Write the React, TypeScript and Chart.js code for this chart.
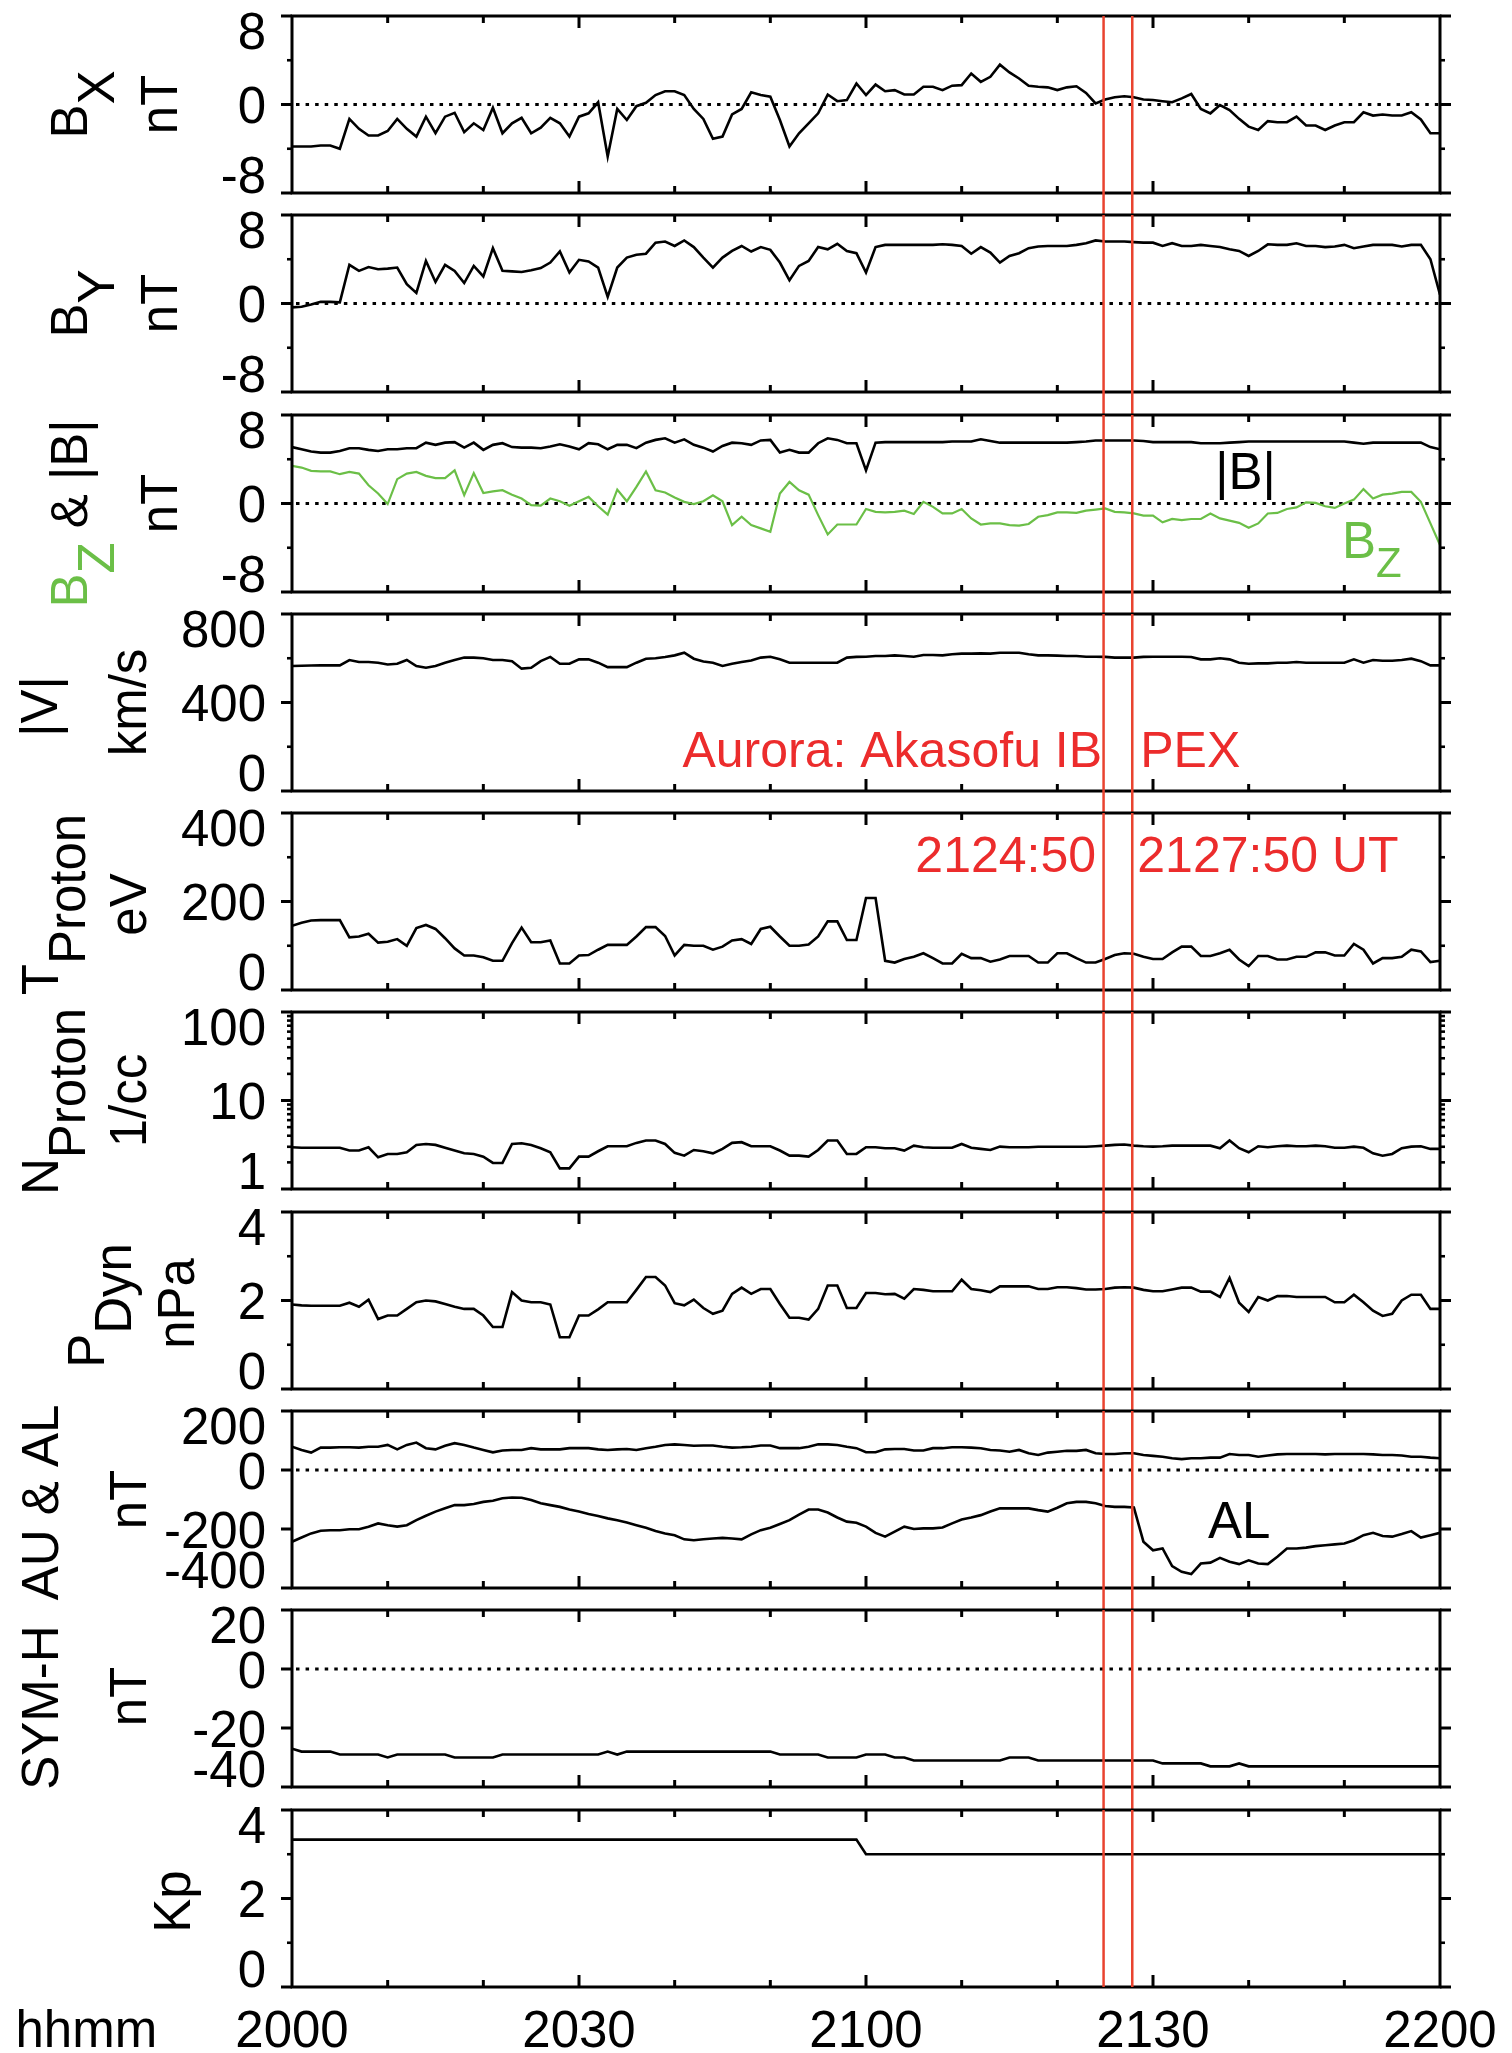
import React, { useEffect, useRef } from 'react';
import { Chart, registerables } from 'chart.js';

Chart.register(...registerables);

const FAMILY = '"Liberation Sans", Arial, Helvetica, sans-serif';
const BLACK = '#000000';
const GREEN = '#6bbf47';
const RED_LINE = '#e9432f';
const RED_TEXT = '#ec2c2c';

// ---------------- data ----------------
// time axis: minutes after 2000 UT (1-min resolution)
const minutes: number[] = Array.from({ length: 121 }, (_, i) => i);
const timeTickValues = [0, 30, 60, 90, 120];
const timeTickLabels = ['2000', '2030', '2100', '2130', '2200'];
const eventTimes = [84 + 50 / 60, 87 + 50 / 60]; // 2124:50 and 2127:50 UT

const bx = [
  -3.8, -3.8, -3.8, -3.7, -3.7, -4.0, -1.3, -2.2, -2.8, -2.8,
  -2.4, -1.3, -2.2, -2.9, -1.1, -2.6, -1.1, -0.75, -2.5, -1.7,
  -2.3, -0.3, -2.6, -1.7, -1.2, -2.6, -2.1, -1.2, -1.7, -2.9,
  -1.1, -0.8, 0.2, -4.7, -0.4, -1.4, -0.15, 0.15, 0.85, 1.2,
  1.2, 0.85, -0.4, -1.3, -3.1, -2.9, -0.9, -0.4, 1.1, 0.85,
  0.7, -1.4, -3.8, -2.6, -1.7, -0.8, 0.9, 0.3, 0.4, 1.9,
  0.85, 1.8, 1.2, 1.3, 0.9, 0.9, 1.6, 1.6, 1.3, 1.7,
  1.75, 2.8, 2.05, 2.5, 3.6, 2.9, 2.35, 1.7, 1.6, 1.55,
  1.3, 1.55, 1.65, 1.05, 0.1, 0.45, 0.65, 0.75, 0.65, 0.45,
  0.4, 0.3, 0.2, 0.55, 0.95, -0.4, -0.8, -0.05, -0.5, -1.3,
  -2.0, -2.3, -1.5, -1.6, -1.6, -1.1, -1.9, -1.9, -2.3, -1.9,
  -1.6, -1.6, -0.7, -1.0, -0.9, -1.0, -1.0, -0.7, -1.35, -2.6, -2.6,
];

const by = [
  -0.35, -0.3, -0.1, 0.15, 0.15, 0.1, 3.5, 2.95, 3.3, 3.1,
  3.15, 3.25, 1.75, 0.95, 3.85, 1.95, 3.5, 2.95, 1.85, 3.4,
  2.45, 5.0, 2.95, 2.9, 2.85, 3.0, 3.2, 3.7, 4.7, 2.8,
  3.95, 3.8, 3.25, 0.6, 3.25, 4.15, 4.4, 4.5, 5.5, 5.6,
  5.2, 5.7, 5.1, 4.15, 3.25, 4.15, 4.75, 5.2, 4.7, 5.1,
  4.85, 3.7, 2.1, 3.4, 3.85, 5.1, 4.9, 5.4, 4.75, 4.55,
  2.8, 5.1, 5.3, 5.3, 5.3, 5.3, 5.3, 5.3, 5.35, 5.3,
  5.2, 4.5, 5.1, 4.6, 3.7, 4.3, 4.55, 5.0, 5.15, 5.2,
  5.2, 5.2, 5.3, 5.45, 5.7, 5.6, 5.6, 5.6, 5.55, 5.5,
  5.5, 5.2, 5.45, 5.2, 5.2, 5.3, 5.2, 5.1, 4.9, 4.75,
  4.3, 4.75, 5.35, 5.3, 5.3, 5.45, 5.2, 5.2, 5.1, 5.15,
  5.3, 5.0, 5.15, 5.3, 5.3, 5.3, 5.15, 5.3, 5.3, 4.0, 0.8,
];

const bmag = [
  5.1, 4.9, 4.7, 4.6, 4.6, 4.75, 5.0, 5.0, 4.85, 4.75,
  4.9, 4.9, 5.0, 5.0, 5.5, 5.3, 5.5, 5.55, 5.05, 5.5,
  4.85, 5.3, 5.45, 5.1, 5.05, 5.05, 5.0, 5.15, 5.35, 5.15,
  4.9, 5.45, 5.35, 4.9, 5.3, 5.3, 5.0, 5.5, 5.75, 5.9,
  5.5, 5.8, 5.3, 5.05, 4.7, 5.2, 5.5, 5.45, 5.3, 5.7,
  5.75, 4.6, 4.85, 4.6, 4.6, 5.45, 5.9, 5.75, 5.45, 5.45,
  3.0, 5.5, 5.55, 5.55, 5.55, 5.55, 5.55, 5.55, 5.55, 5.6,
  5.6, 5.6, 5.8, 5.65, 5.5, 5.5, 5.5, 5.5, 5.5, 5.5,
  5.5, 5.5, 5.55, 5.6, 5.7, 5.7, 5.7, 5.7, 5.7, 5.65,
  5.55, 5.55, 5.55, 5.55, 5.55, 5.45, 5.45, 5.45, 5.5, 5.55,
  5.6, 5.6, 5.6, 5.6, 5.6, 5.6, 5.6, 5.6, 5.6, 5.6,
  5.6, 5.5, 5.4, 5.5, 5.5, 5.5, 5.5, 5.5, 5.5, 5.1, 4.9,
];

const bz = [
  3.4, 3.25, 2.95, 2.9, 2.9, 2.65, 2.85, 2.7, 1.65, 0.9,
  -0.05, 2.2, 2.7, 2.85, 2.5, 2.3, 2.3, 3.0, 0.75, 2.75,
  0.95, 1.1, 1.2, 0.8, 0.45, -0.15, -0.2, 0.45, 0.2, -0.2,
  0.2, 0.6, -0.25, -1.0, 1.25, 0.2, 1.5, 2.9, 1.2, 1.0,
  0.55, 0.15, -0.05, 0.2, 0.75, 0.2, -1.95, -1.2, -1.95, -2.25,
  -2.55, 0.9, 1.95, 1.2, 0.8, -1.05, -2.8, -1.9, -1.9, -1.9,
  -0.5, -0.75, -0.8, -0.75, -0.65, -0.95, 0.15, -0.3, -0.9, -0.9,
  -0.5, -1.35, -1.9, -1.8, -1.8, -1.95, -2.0, -1.85, -1.2, -1.05,
  -0.8, -0.8, -0.85, -0.65, -0.55, -0.45, -0.75, -0.8, -0.9, -1.1,
  -1.1, -1.7, -1.4, -1.5, -1.4, -1.4, -0.9, -1.35, -1.55, -1.75,
  -2.2, -1.8, -0.9, -0.85, -0.5, -0.35, 0.1, 0.05, -0.25, -0.4,
  0.0, 0.35, 1.3, 0.45, 0.8, 0.9, 1.05, 1.05, 0.15, -1.8, -3.75,
];

const speed = [
  565, 566, 567, 568, 568, 568, 592, 583, 583, 580,
  572, 575, 592, 565, 557, 565, 580, 592, 603, 603,
  600, 592, 592, 587, 553, 557, 587, 606, 575, 575,
  595, 595, 580, 560, 560, 560, 580, 598, 600, 606,
  613, 625, 598, 585, 580, 565, 575, 583, 590, 603,
  607, 595, 580, 580, 580, 580, 580, 580, 603, 606,
  607, 610, 610, 613, 610, 607, 615, 615, 613, 618,
  621, 621, 622, 621, 625, 625, 625, 618, 613, 613,
  612, 610, 610, 607, 607, 606, 603, 603, 603, 606,
  607, 607, 607, 607, 606, 595, 595, 600, 595, 580,
  575, 577, 577, 580, 580, 583, 580, 580, 580, 580,
  580, 595, 580, 592, 589, 589, 592, 598, 587, 568, 568,
];

const tProton = [
  145, 152, 157, 158, 158, 158, 119, 121, 127, 107,
  109, 115, 100, 140, 147, 138, 117, 94, 78, 78,
  74, 66, 66, 106, 141, 108, 108, 112, 60, 60,
  78, 79, 91, 102, 102, 102, 121, 142, 142, 122,
  78, 102, 100, 100, 91, 98, 112, 115, 104, 138,
  143, 121, 100, 100, 103, 121, 155, 155, 113, 113,
  208, 208, 66, 62, 70, 75, 83, 72, 60, 60,
  82, 72, 72, 64, 69, 77, 77, 77, 62, 62,
  83, 83, 72, 62, 62, 70, 79, 83, 82, 75,
  70, 70, 85, 98, 98, 77, 77, 83, 91, 69,
  54, 77, 77, 69, 69, 75, 75, 85, 85, 78,
  78, 104, 91, 60, 72, 72, 75, 91, 87, 63, 66,
];

const nProton = [
  2.96, 2.92, 2.92, 2.92, 2.92, 2.92, 2.72, 2.72, 2.96, 2.28,
  2.49, 2.49, 2.6, 3.15, 3.23, 3.15, 2.92, 2.72, 2.53, 2.49,
  2.32, 1.97, 1.97, 3.23, 3.29, 3.15, 2.89, 2.6, 1.71, 1.71,
  2.32, 2.32, 2.67, 3.04, 3.04, 3.04, 3.32, 3.53, 3.53, 3.23,
  2.56, 2.38, 2.76, 2.67, 2.53, 2.84, 3.32, 3.38, 3.04, 3.04,
  3.04, 2.72, 2.38, 2.38, 2.32, 2.76, 3.53, 3.53, 2.49, 2.49,
  2.96, 2.96, 2.89, 2.89, 2.72, 3.09, 2.96, 2.92, 2.92, 2.92,
  3.23, 2.92, 2.84, 2.76, 3.01, 2.96, 2.96, 2.96, 3.0, 3.0,
  3.0, 3.0, 3.0, 3.0, 3.04, 3.09, 3.15, 3.18, 3.09, 3.04,
  3.01, 3.04, 3.09, 3.09, 3.09, 3.09, 3.09, 2.89, 3.53, 2.89,
  2.6, 3.04, 2.96, 3.04, 3.09, 3.04, 3.04, 3.09, 3.04, 2.92,
  2.92, 3.01, 2.92, 2.53, 2.38, 2.49, 2.89, 3.01, 3.04, 2.84, 2.84,
];

const pDyn = [
  1.91, 1.89, 1.88, 1.88, 1.88, 1.88, 1.95, 1.86, 2.02, 1.58,
  1.66, 1.66, 1.81, 1.96, 2.0, 1.98, 1.92, 1.86, 1.81, 1.81,
  1.66, 1.4, 1.4, 2.19, 2.0, 1.96, 1.96, 1.91, 1.17, 1.17,
  1.66, 1.66, 1.8, 1.96, 1.96, 1.96, 2.24, 2.53, 2.53, 2.34,
  1.94, 1.89, 2.02, 1.83, 1.7, 1.77, 2.15, 2.29, 2.15, 2.26,
  2.26, 1.92, 1.61, 1.61, 1.57, 1.81, 2.34, 2.34, 1.83, 1.83,
  2.17, 2.17, 2.14, 2.15, 2.04, 2.26, 2.24, 2.21, 2.21, 2.21,
  2.47, 2.26, 2.23, 2.19, 2.32, 2.32, 2.32, 2.32, 2.26, 2.26,
  2.3, 2.3, 2.28, 2.25, 2.25, 2.26, 2.29, 2.3, 2.29, 2.24,
  2.21, 2.21, 2.25, 2.29, 2.29, 2.2, 2.2, 2.08, 2.51, 1.95,
  1.74, 2.08, 2.0, 2.1, 2.1, 2.08, 2.08, 2.08, 2.08, 1.96,
  1.96, 2.13, 1.96, 1.77, 1.65, 1.7, 2.0, 2.13, 2.13, 1.81, 1.81,
];

const au = [
  79, 68, 59, 76, 76, 77, 77, 76, 79, 79,
  85, 70, 85, 93, 74, 70, 82, 91, 85, 76,
  68, 60, 66, 68, 68, 74, 70, 70, 70, 74,
  74, 74, 70, 68, 70, 71, 68, 74, 79, 85,
  87, 85, 82, 83, 83, 79, 76, 77, 79, 83,
  83, 74, 74, 74, 79, 87, 87, 85, 79, 74,
  60, 60, 70, 71, 71, 66, 66, 74, 74, 77,
  77, 76, 74, 68, 66, 62, 68, 57, 51, 59,
  62, 65, 65, 68, 57, 54, 54, 57, 57, 51,
  48, 45, 40, 37, 40, 40, 42, 42, 54, 51,
  51, 45, 49, 53, 54, 54, 54, 54, 53, 54,
  54, 54, 54, 53, 51, 51, 49, 45, 45, 42, 40,
];

const al = [
  -243, -229, -215, -206, -204, -204, -201, -201, -192, -181,
  -187, -192, -187, -170, -155, -141, -130, -119, -119, -115,
  -108, -104, -96, -93, -94, -102, -113, -119, -125, -134,
  -141, -149, -156, -164, -170, -178, -187, -196, -207, -215,
  -221, -235, -238, -235, -232, -230, -232, -235, -218, -204,
  -196, -183, -170, -151, -134, -134, -144, -161, -175, -179,
  -192, -213, -226, -209, -192, -200, -198, -198, -195, -181,
  -168, -161, -153, -141, -130, -130, -130, -130, -136, -141,
  -128, -113, -108, -108, -113, -122, -125, -125, -127, -243,
  -272, -266, -326, -345, -353, -317, -314, -298, -311, -319,
  -306, -317, -319, -294, -266, -266, -263, -258, -255, -252,
  -249, -238, -221, -213, -224, -226, -217, -207, -229, -221, -213,
];

const symH = [
  -27, -28, -28, -28, -28, -29, -29, -29, -29, -29,
  -30, -29, -29, -29, -29, -29, -29, -30, -30, -30,
  -30, -30, -29, -29, -29, -29, -29, -29, -29, -29,
  -29, -29, -29, -28, -29, -28, -28, -28, -28, -28,
  -28, -28, -28, -28, -28, -28, -28, -28, -28, -28,
  -28, -29, -29, -29, -29, -29, -30, -30, -30, -30,
  -29, -29, -29, -30, -30, -31, -31, -31, -31, -31,
  -31, -31, -31, -31, -31, -30, -30, -30, -31, -31,
  -31, -31, -31, -31, -31, -31, -31, -31, -31, -31,
  -31, -32, -32, -32, -32, -32, -33, -33, -33, -32,
  -33, -33, -33, -33, -33, -33, -33, -33, -33, -33,
  -33, -33, -33, -33, -33, -33, -33, -33, -33, -33, -33,
];

// Kp (3-hour index): step values at the given minutes
const kpTimes = [0, 59, 60, 120];
const kpValues = [3.33, 3.33, 3.0, 3.0];

// y-axis tick values / labels per panel
const bTickValues = [8, 0, -8];
const bTickLabels = ['8', '0', '-8'];
const vTickValues = [800, 400, 0];
const vTickLabels = ['800', '400', '0'];
const tTickValues = [400, 200, 0];
const tTickLabels = ['400', '200', '0'];
const nTickValues = [100, 10, 1];
const nTickLabels = ['100', '10', '1'];
const pTickValues = [4, 2, 0];
const pTickLabels = ['4', '2', '0'];
const aeTickValues = [200, 0, -200, -400];
const aeTickLabels = ['200', '0', '-200', '-400'];
const symTickValues = [20, 0, -20, -40];
const symTickLabels = ['20', '0', '-20', '-40'];
const kpTickValues = [4, 2, 0];
const kpTickLabels = ['4', '2', '0'];

// ---------------- layout ----------------
const PAGE_W = 1512;
const PAGE_H = 2053;
const PLOT_LEFT = 292;
const PLOT_RIGHT = 1440;
const PANEL_TOPS = [16, 215, 415, 614, 813, 1012, 1212, 1411, 1610, 1810];
const PANEL_H = 177;
const PAD_TOP = 60;
const SUB = 27;
const LABEL_FONT = `51px ${FAMILY}`;
const RED_FONT = `50px ${FAMILY}`;

type Seg = { t: string; sub?: boolean; c?: string; size?: number; dy?: number };
type Series = { data: number[]; xs?: number[]; color: string; width: number };
type TitleLine = { segs: Seg[]; bx: number; dy: number };
type Annot = { segs: Seg[]; x: number; dx?: number; y: number; align: 'left' | 'right'; font?: string; color?: string };
type PanelCfg = {
  min: number; max: number; log?: boolean;
  ticks: number[]; labels: string[]; minors: number[];
  zero?: boolean; series: Series[]; titles: TitleLine[]; annots?: Annot[];
};

const logMinors = [2, 3, 4, 5, 6, 7, 8, 9, 20, 30, 40, 50, 60, 70, 80, 90];

const panels: PanelCfg[] = [
  {
    min: -8, max: 8, ticks: bTickValues, labels: bTickLabels, minors: [-4, 4], zero: true,
    series: [{ data: bx, color: BLACK, width: 2.6 }],
    titles: [
      { segs: [{ t: 'B' }, { t: 'X', sub: true }], bx: 87, dy: 0 },
      { segs: [{ t: 'nT' }], bx: 177, dy: 0 },
    ],
  },
  {
    min: -8, max: 8, ticks: bTickValues, labels: bTickLabels, minors: [-4, 4], zero: true,
    series: [{ data: by, color: BLACK, width: 2.6 }],
    titles: [
      { segs: [{ t: 'B' }, { t: 'Y', sub: true }], bx: 87, dy: 0 },
      { segs: [{ t: 'nT' }], bx: 177, dy: 0 },
    ],
  },
  {
    min: -8, max: 8, ticks: bTickValues, labels: bTickLabels, minors: [-4, 4], zero: true,
    series: [
      { data: bmag, color: BLACK, width: 2.6 },
      { data: bz, color: GREEN, width: 2.2 },
    ],
    titles: [
      { segs: [{ t: 'B', c: GREEN }, { t: 'Z', sub: true, c: GREEN }, { t: ' & |B|' }], bx: 87, dy: 10 },
      { segs: [{ t: 'nT' }], bx: 177, dy: 0 },
    ],
    annots: [
      { segs: [{ t: '|B|' }], x: 96.5, y: 1.31, align: 'left', color: BLACK },
      { segs: [{ t: 'B' }, { t: 'Z', size: 42, dy: 19 }], x: 109.75, y: -4.93, align: 'left', color: GREEN },
    ],
  },
  {
    min: 0, max: 800, ticks: vTickValues, labels: vTickLabels, minors: [200, 600],
    series: [{ data: speed, color: BLACK, width: 2.6 }],
    titles: [
      { segs: [{ t: '|V|' }], bx: 57, dy: 4 },
      { segs: [{ t: 'km/s' }], bx: 146, dy: 0 },
    ],
    annots: [
      { segs: [{ t: 'Aurora: Akasofu IB' }], x: eventTimes[0], dx: -1.5, y: 108, align: 'right', font: RED_FONT, color: RED_TEXT },
      { segs: [{ t: 'PEX' }], x: eventTimes[1], dx: 8, y: 108, align: 'left', font: RED_FONT, color: RED_TEXT },
    ],
  },
  {
    min: 0, max: 400, ticks: tTickValues, labels: tTickLabels, minors: [100, 300],
    series: [{ data: tProton, color: BLACK, width: 2.6 }],
    titles: [
      { segs: [{ t: 'T' }, { t: 'Proton', sub: true }], bx: 58, dy: 3 },
      { segs: [{ t: 'eV' }], bx: 146, dy: 3 },
    ],
    annots: [
      { segs: [{ t: '2124:50' }], x: eventTimes[0], dx: -7.5, y: 267, align: 'right', font: RED_FONT, color: RED_TEXT },
      { segs: [{ t: '2127:50 UT' }], x: eventTimes[1], dx: 5, y: 267, align: 'left', font: RED_FONT, color: RED_TEXT },
    ],
  },
  {
    min: 1, max: 100, log: true, ticks: nTickValues, labels: nTickLabels, minors: logMinors,
    series: [{ data: nProton, color: BLACK, width: 2.6 }],
    titles: [
      { segs: [{ t: 'N' }, { t: 'Proton', sub: true }], bx: 58, dy: 1 },
      { segs: [{ t: '1/cc' }], bx: 146, dy: 0 },
    ],
  },
  {
    min: 0, max: 4, ticks: pTickValues, labels: pTickLabels, minors: [1, 3],
    series: [{ data: pDyn, color: BLACK, width: 2.6 }],
    titles: [
      { segs: [{ t: 'P' }, { t: 'Dyn', sub: true }], bx: 104, dy: 5 },
      { segs: [{ t: 'nPa' }], bx: 194, dy: 3 },
    ],
  },
  {
    min: -400, max: 200, ticks: aeTickValues, labels: aeTickLabels, minors: [], zero: true,
    series: [
      { data: au, color: BLACK, width: 2.6 },
      { data: al, color: BLACK, width: 2.6 },
    ],
    titles: [
      { segs: [{ t: 'AU & AL' }], bx: 58, dy: 3 },
      { segs: [{ t: 'nT' }], bx: 146, dy: 0 },
    ],
    annots: [{ segs: [{ t: 'AL' }], x: 95.75, y: -230, align: 'left', color: BLACK }],
  },
  {
    min: -40, max: 20, ticks: symTickValues, labels: symTickLabels, minors: [], zero: true,
    series: [{ data: symH, color: BLACK, width: 2.6 }],
    titles: [
      { segs: [{ t: 'SYM-H' }], bx: 58, dy: 9 },
      { segs: [{ t: 'nT' }], bx: 146, dy: -2 },
    ],
  },
  {
    min: 0, max: 4, ticks: kpTickValues, labels: kpTickLabels, minors: [1, 3],
    series: [{ data: kpValues, xs: kpTimes, color: BLACK, width: 2.6 }],
    titles: [{ segs: [{ t: 'Kp' }], bx: 190, dy: 3 }],
  },
];

// ---------------- drawing helpers ----------------
function segWidths(ctx: CanvasRenderingContext2D, segs: Seg[], baseSize: number) {
  return segs.map((s) => {
    ctx.font = `${s.size || baseSize}px ${FAMILY}`;
    return ctx.measureText(s.t).width;
  });
}

function drawRotatedTitle(ctx: CanvasRenderingContext2D, segs: Seg[], bx: number, cy: number) {
  const size = 51;
  const widths = segWidths(ctx, segs, size);
  const total = widths.reduce((a, b) => a + b, 0);
  ctx.save();
  ctx.translate(bx, cy);
  ctx.rotate(-Math.PI / 2);
  ctx.textAlign = 'left';
  ctx.textBaseline = 'alphabetic';
  let x = -total / 2;
  segs.forEach((s, i) => {
    ctx.font = `${s.size || size}px ${FAMILY}`;
    ctx.fillStyle = s.c || BLACK;
    ctx.fillText(s.t, x, s.sub ? SUB : 0);
    x += widths[i];
  });
  ctx.restore();
}

function drawRich(ctx: CanvasRenderingContext2D, segs: Seg[], x: number, y: number, align: 'left' | 'right', baseSize: number, color: string) {
  const widths = segWidths(ctx, segs, baseSize);
  const total = widths.reduce((a, b) => a + b, 0);
  let cx = align === 'right' ? x - total : x;
  ctx.save();
  ctx.textAlign = 'left';
  ctx.textBaseline = 'alphabetic';
  segs.forEach((s, i) => {
    ctx.font = `${s.size || baseSize}px ${FAMILY}`;
    ctx.fillStyle = s.c || color;
    ctx.fillText(s.t, cx, y + (s.dy || 0));
    cx += widths[i];
  });
  ctx.restore();
}

function line(ctx: CanvasRenderingContext2D, x1: number, y1: number, x2: number, y2: number) {
  ctx.beginPath();
  ctx.moveTo(x1, y1);
  ctx.lineTo(x2, y2);
  ctx.stroke();
}

function Panel({ cfg, index }: { cfg: PanelCfg; index: number }) {
  const ref = useRef<HTMLCanvasElement | null>(null);
  const top = PANEL_TOPS[index];
  const isLast = index === PANEL_TOPS.length - 1;
  const padBottom = isLast ? 64 : 70;
  const canvasTop = top - PAD_TOP;
  const height = PAD_TOP + PANEL_H + padBottom;
  const gapBelow = isLast ? 0 : PANEL_TOPS[index + 1] - (top + PANEL_H);

  useEffect(() => {
    const canvas = ref.current;
    if (!canvas) return;
    const datasets = cfg.series.map((s) => ({
      data: s.data.map((v, i) => ({ x: (s.xs || minutes)[i], y: v })),
      borderColor: s.color,
      borderWidth: s.width,
      pointRadius: 0,
      fill: false,
      tension: 0,
      borderJoinStyle: 'miter',
      borderCapStyle: 'butt',
    }));

    const decor = {
      id: 'decor' + index,
      beforeDatasetsDraw(chart: any) {
        const { ctx, chartArea: a, scales } = chart;
        if (cfg.zero) {
          const yy = scales.y.getPixelForValue(0);
          ctx.save();
          ctx.strokeStyle = BLACK;
          ctx.lineWidth = 3;
          ctx.setLineDash([3.5, 6.07]);
          line(ctx, a.left + 4, yy, a.right, yy);
          ctx.restore();
        }
      },
      afterDatasetsDraw(chart: any) {
        const { ctx, chartArea: a, scales } = chart;
        const xs = scales.x;
        const ys = scales.y;
        ctx.save();
        ctx.strokeStyle = BLACK;
        ctx.lineWidth = 3;
        ctx.lineCap = 'square';
        ctx.setLineDash([]);
        // frame
        ctx.strokeRect(a.left, a.top, a.right - a.left, a.bottom - a.top);
        ctx.lineCap = 'butt';
        // y ticks (outward, both sides)
        cfg.ticks.forEach((v) => {
          const py = ys.getPixelForValue(v);
          line(ctx, a.left - 11, py, a.left, py);
          line(ctx, a.right, py, a.right + 11, py);
        });
        ctx.lineWidth = 2.6;
        cfg.minors.forEach((v) => {
          const py = ys.getPixelForValue(v);
          line(ctx, a.left - 5, py, a.left, py);
          line(ctx, a.right, py, a.right + 5, py);
        });
        // x ticks (inward, top and bottom)
        ctx.lineWidth = 3;
        for (let m = 10; m < 120; m += 10) {
          const px = xs.getPixelForValue(m);
          const len = m % 30 === 0 ? 12 : 7;
          line(ctx, px, a.top, px, a.top + len);
          line(ctx, px, a.bottom, px, a.bottom - len);
        }
        // y tick labels
        ctx.font = LABEL_FONT;
        ctx.fillStyle = BLACK;
        ctx.textAlign = 'right';
        ctx.textBaseline = 'alphabetic';
        const n = cfg.ticks.length;
        cfg.ticks.forEach((v, i) => {
          let yb = ys.getPixelForValue(v) + 18.5;
          if (i === 0) yb = a.top + 33;
          else if (i === n - 1) yb = a.bottom;
          ctx.fillText(cfg.labels[i], a.left - 26, yb);
        });
        // y titles
        const cy = a.top + (a.bottom - a.top) / 2;
        cfg.titles.forEach((t) => drawRotatedTitle(ctx, t.segs, t.bx, cy + t.dy));
        // annotations
        (cfg.annots || []).forEach((an) => {
          const px = xs.getPixelForValue(an.x) + (an.dx || 0);
          const py = ys.getPixelForValue(an.y);
          const size = an.font === RED_FONT ? 50 : 51;
          drawRich(ctx, an.segs, px, py, an.align, size, an.color || BLACK);
        });
        // time labels on the last panel
        if (isLast) {
          ctx.font = LABEL_FONT;
          ctx.fillStyle = BLACK;
          ctx.textAlign = 'center';
          timeTickValues.forEach((v, i) => {
            ctx.fillText(timeTickLabels[i], xs.getPixelForValue(v), a.bottom + 60);
          });
          ctx.textAlign = 'left';
          ctx.fillText('hhmm', 15.5, a.bottom + 60);
        }
        // event lines
        ctx.strokeStyle = RED_LINE;
        ctx.lineWidth = 2.5;
        eventTimes.forEach((t) => {
          const px = xs.getPixelForValue(t);
          line(ctx, px, a.top, px, a.bottom + gapBelow + (isLast ? 0 : 1));
        });
        ctx.restore();
      },
    };

    const chart = new Chart(canvas, {
      type: 'line',
      data: { datasets: datasets as any },
      options: {
        responsive: false,
        animation: false,
        devicePixelRatio: 1,
        events: [],
        layout: { padding: { left: PLOT_LEFT, right: PAGE_W - PLOT_RIGHT, top: PAD_TOP, bottom: padBottom } },
        plugins: { legend: { display: false }, tooltip: { enabled: false }, title: { display: false } },
        scales: {
          x: { type: 'linear', min: 0, max: 120, display: false },
          y: { type: cfg.log ? 'logarithmic' : 'linear', min: cfg.min, max: cfg.max, display: false },
        },
      } as any,
      plugins: [decor],
    });
    return () => chart.destroy();
  }, []);

  return (
    <canvas
      ref={ref}
      width={PAGE_W}
      height={height}
      style={{ position: 'absolute', left: 0, top: canvasTop, width: PAGE_W, height, display: 'block' }}
    />
  );
}

export default function App() {
  return (
    <div style={{ position: 'absolute', left: 0, top: 0, width: PAGE_W, height: PAGE_H, overflow: 'hidden', background: '#ffffff' }}>
      {panels.map((cfg, i) => (
        <Panel key={i} cfg={cfg} index={i} />
      ))}
    </div>
  );
}
